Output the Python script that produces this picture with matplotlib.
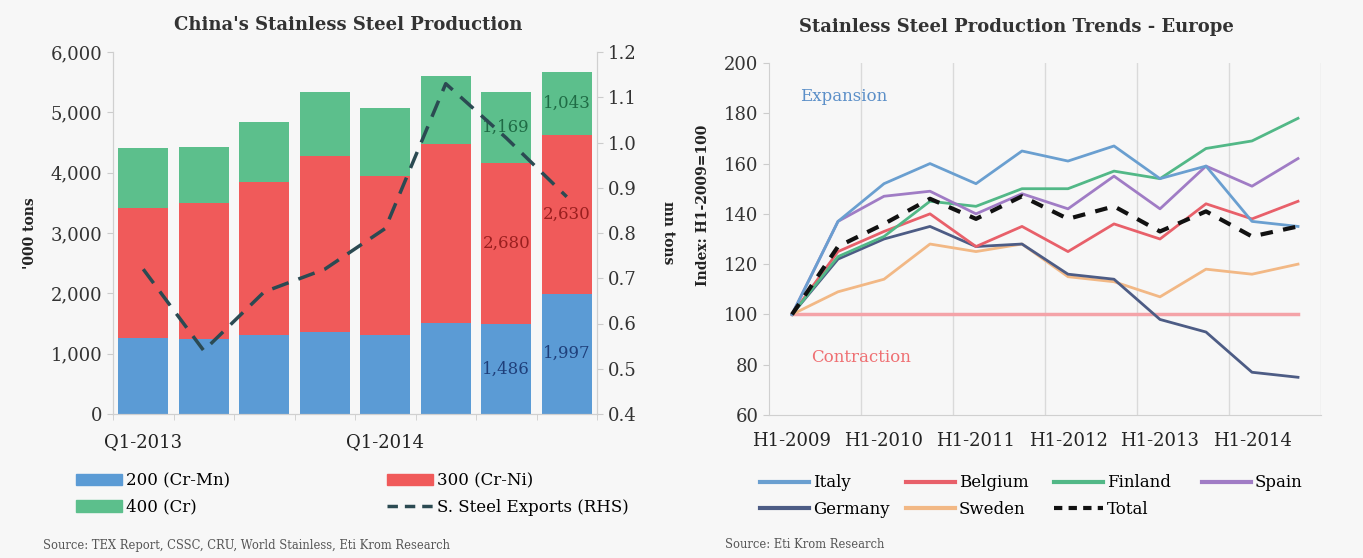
import numpy as np
import matplotlib
matplotlib.use('Agg')
import matplotlib.pyplot as plt
from matplotlib.patches import Patch
from matplotlib.lines import Line2D

plt.rcParams['font.family'] = ['DejaVu Serif']

# left chart data ('000 tons, mn tons)
quarters = ['Q1-2013', 'Q2-2013', 'Q3-2013', 'Q4-2013', 'Q1-2014', 'Q2-2014', 'Q3-2014', 'Q4-2014']
quarter_labels = ['Q1-2013', '', '', '', 'Q1-2014', '', '', '']
cr_mn_200 = [1260, 1250, 1310, 1360, 1310, 1510, 1486, 1997]
cr_ni_300 = [2150, 2240, 2530, 2910, 2630, 2960, 2680, 2630]
cr_400 = [1000, 930, 1000, 1060, 1140, 1130, 1169, 1043]
exports = [0.72, 0.54, 0.67, 0.72, 0.81, 1.13, 1.01, 0.88]
labelled_bars = [6, 7]

# right chart data (index H1-2009=100)
halves = ['H1-2009', 'H2-2009', 'H1-2010', 'H2-2010', 'H1-2011', 'H2-2011',
          'H1-2012', 'H2-2012', 'H1-2013', 'H2-2013', 'H1-2014', 'H2-2014']
italy = [100, 137, 152, 160, 152, 165, 161, 167, 154, 159, 137, 135]
belgium = [100, 125, 133, 140, 127, 135, 125, 136, 130, 144, 138, 145]
finland = [100, 123, 131, 145, 143, 150, 150, 157, 154, 166, 169, 178]
spain = [100, 137, 147, 149, 140, 148, 142, 155, 142, 159, 151, 162]
germany = [100, 122, 130, 135, 127, 128, 116, 114, 98, 93, 77, 75]
sweden = [100, 109, 114, 128, 125, 128, 115, 113, 107, 118, 116, 120]
total = [100, 127, 136, 146, 138, 147, 138, 143, 133, 141, 131, 135]
baseline = [100] * 12

bg = '#f7f7f7'
c200 = '#5b9bd5'
c300 = '#f05a5a'
c400 = '#5cbf8c'

fig = plt.figure(figsize=(13.63, 5.58), dpi=100, facecolor=bg)

# ---------- left chart ----------
ax = fig.add_axes([113/1363, 1-414/558, 484/1363, 362/558])
ax.set_facecolor(bg)
x = np.arange(len(quarters))
b1 = np.array(cr_mn_200)
b2 = np.array(cr_ni_300)
b3 = np.array(cr_400)
ax.bar(x, b1, width=0.82, color=c200, zorder=2)
ax.bar(x, b2, width=0.82, bottom=b1, color=c300, zorder=2)
ax.bar(x, b3, width=0.82, bottom=b1+b2, color=c400, zorder=2)
for i in labelled_bars:
    ax.text(x[i], b1[i]/2, f'{b1[i]:,}', ha='center', va='center', fontsize=12, color='#1f3f7a', zorder=5)
    ax.text(x[i], b1[i]+b2[i]/2, f'{b2[i]:,}', ha='center', va='center', fontsize=12, color='#9a1f1f', zorder=5)
    ax.text(x[i], b1[i]+b2[i]+b3[i]/2, f'{b3[i]:,}', ha='center', va='center', fontsize=12, color='#1f6b45', zorder=5)
ax.set_xlim(-0.5, 7.5)
ax.set_ylim(0, 6000)
ax.set_yticks(range(0, 6001, 1000))
ax.set_yticklabels([f'{v:,}' for v in range(0, 6001, 1000)], fontsize=13, color='#333333')
ax.set_xticks(x)
ax.set_xticklabels(quarter_labels, fontsize=13, color='#222222')
ax.set_xticks(np.arange(-0.5, 8, 1), minor=True)
ax.tick_params(axis='x', which='major', length=0, pad=14)
ax.tick_params(axis='x', which='minor', length=4, color='#cccccc')
ax.tick_params(axis='y', length=4, color='#cccccc')
for s in ['left', 'right', 'bottom']:
    ax.spines[s].set_color('#d0d0d0')
ax.spines['top'].set_visible(False)

ax2 = ax.twinx()
ax2.plot(x, exports, color='#2b4a52', lw=2.5, ls=(0, (5, 3)), zorder=4)
ax2.set_ylim(0.4, 1.2)
ax2.set_yticks(np.arange(0.4, 1.21, 0.1))
ax2.set_yticklabels([f'{v:.1f}' for v in np.arange(0.4, 1.21, 0.1)], fontsize=13, color='#333333')
ax2.tick_params(axis='y', length=4, color='#cccccc')
for s in ['left', 'right', 'bottom']:
    ax2.spines[s].set_color('#d0d0d0')
ax2.spines['top'].set_visible(False)

fig.text(348/1363, 1-25/558, "China's Stainless Steel Production", ha='center', va='center',
         fontsize=13, fontweight='bold', color='#333333')
fig.text(30/1363, 1-233/558, "'000 tons", rotation=90, ha='center', va='center', fontsize=10,
         fontweight='bold', color='#222222')
fig.text(668/1363, 1-233/558, 'mn tons', rotation=-90, ha='center', va='center', fontsize=10,
         fontweight='bold', color='#222222')

handles = [Patch(color=c200), Patch(color=c400), Patch(color=c300),
           Line2D([], [], color='#2b4a52', lw=2.5, ls=(0, (3, 2)))]
labels = ['200 (Cr-Mn)', '400 (Cr)', '300 (Cr-Ni)', 'S. Steel Exports (RHS)']
fig.legend(handles, labels, ncol=2, loc='center left', bbox_to_anchor=(61/1363, 1-494/558),
           frameon=False, fontsize=12, handlelength=2.75, handleheight=0.7, columnspacing=9.4,
           labelspacing=0.55, handletextpad=0.25)
fig.text(43/1363, 1-545/558, 'Source: TEX Report, CSSC, CRU, World Stainless, Eti Krom Research',
         ha='left', va='center', fontsize=8.3, color='#555555')

# ---------- right chart ----------
bx = fig.add_axes([769/1363, 1-415/558, 552/1363, 352/558])
bx.set_facecolor(bg)
h = np.arange(len(halves))
bx.plot(h, baseline, color='#f4a3a8', lw=2.5, zorder=1)
bx.plot(h, sweden, color='#f2b885', lw=2, zorder=2)
bx.plot(h, germany, color='#4d5c85', lw=2, zorder=2)
bx.plot(h, belgium, color='#e8606a', lw=2, zorder=2)
bx.plot(h, finland, color='#52b887', lw=2, zorder=2)
bx.plot(h, spain, color='#a07cc5', lw=2, zorder=2)
bx.plot(h, italy, color='#6a9fd0', lw=2, zorder=2)
bx.plot(h, total, color='#111111', lw=3, ls=(0, (3, 2.5)), zorder=3)
bx.set_xlim(-0.5, 11.5)
bx.set_ylim(60, 200)
bx.set_yticks(range(60, 201, 20))
bx.set_yticklabels([str(v) for v in range(60, 201, 20)], fontsize=13, color='#333333')
bx.set_xticks(h[::2])
bx.set_xticklabels(halves[::2], fontsize=13, color='#222222')
bx.tick_params(axis='x', length=0, pad=12)
bx.tick_params(axis='y', length=4, color='#cccccc')
for g in np.arange(1.5, 12, 2):
    bx.axvline(g, color='#dadada', lw=1, zorder=0)
bx.spines['left'].set_color('#d0d0d0')
bx.spines['bottom'].set_color('#d0d0d0')
bx.spines['top'].set_visible(False)
bx.spines['right'].set_visible(False)
bx.text(0.17, 186.5, 'Expansion', ha='left', va='center', fontsize=12, color='#5b8fc8')
bx.text(0.41, 83, 'Contraction', ha='left', va='center', fontsize=12, color='#ef6f72')

fig.text(1016/1363, 1-27/558, 'Stainless Steel Production Trends - Europe', ha='center', va='center',
         fontsize=13, fontweight='bold', color='#333333')
fig.text(703/1363, 1-205/558, 'Index: H1-2009=100', rotation=90, ha='center', va='center',
         fontsize=10, fontweight='bold', color='#222222')

# one legend per column so the columns sit at even spacing like the original
legend_cols = [
    ([Line2D([], [], color='#6a9fd0', lw=3), Line2D([], [], color='#4d5c85', lw=3)], ['Italy', 'Germany'], 752),
    ([Line2D([], [], color='#e8606a', lw=3), Line2D([], [], color='#f2b885', lw=3)], ['Belgium', 'Sweden'], 898),
    ([Line2D([], [], color='#52b887', lw=3), Line2D([], [], color='#111111', lw=3, ls=(0, (2, 1.5)))], ['Finland', 'Total'], 1046),
    ([Line2D([], [], color='#a07cc5', lw=3)], ['Spain'], 1194),
]
for hh, ll, xpos in legend_cols:
    fig.legend(hh, ll, loc='upper left', bbox_to_anchor=(xpos/1363, 1-466/558),
               frameon=False, fontsize=12, handlelength=2.9, borderpad=0,
               labelspacing=0.55, handletextpad=0.25)
fig.text(725/1363, 1-545/558, 'Source: Eti Krom Research', ha='left', va='center',
         fontsize=8.3, color='#555555')

fig.savefig('out.png', dpi=100, facecolor=bg)
